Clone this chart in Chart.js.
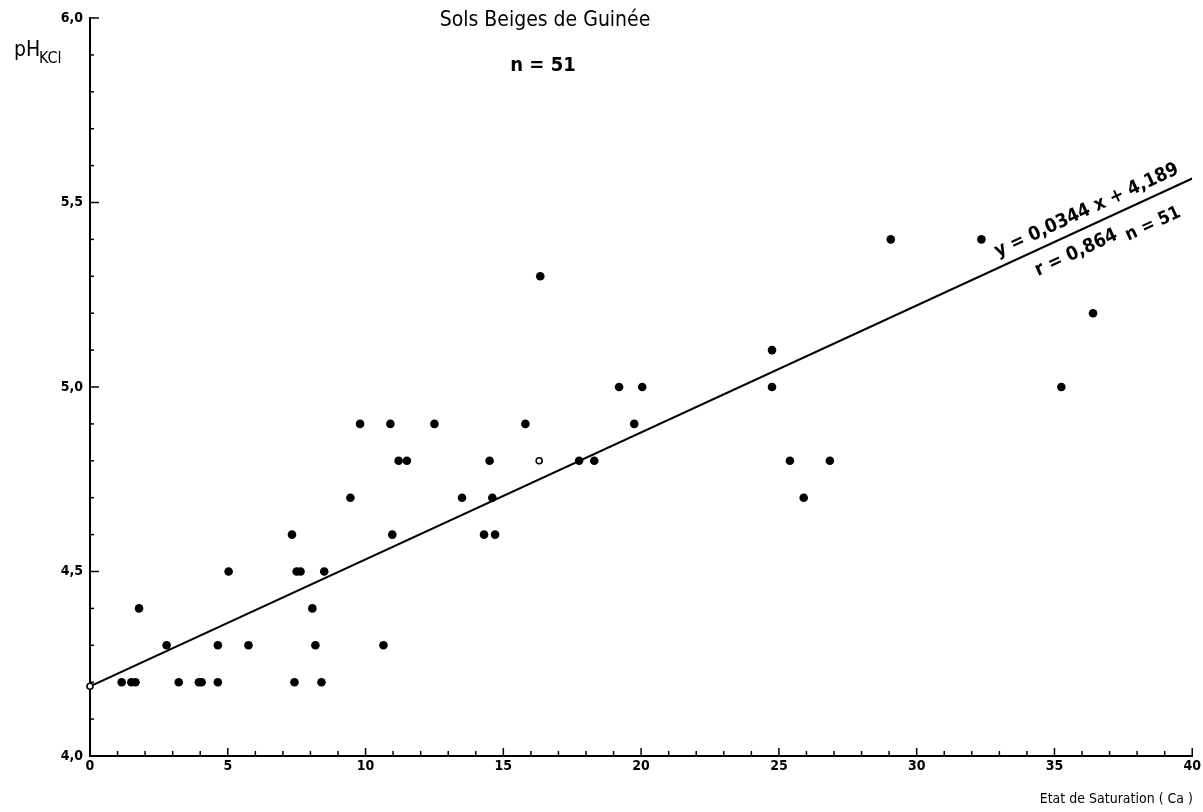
<!DOCTYPE html>
<html>
<head>
<meta charset="utf-8">
<title>Sols Beiges de Guinée</title>
<script src="https://cdn.jsdelivr.net/npm/chart.js@4/dist/chart.umd.min.js"></script>
<style>
  html, body { margin: 0; padding: 0; background: #fff; }
  canvas { display: block; }
</style>
</head>
<body>
<canvas id="phChart" width="1203" height="812"></canvas>
<script>
// ─── Data ─────────────────────────────────────────────────────────────────────

// Etat de saturation (Ca) vs pH KCl, filled dots
const satX = [
  1.15, 1.5, 1.65, 3.22, 3.95, 4.05, 4.64, 7.42, 8.4,
  2.78, 4.64, 5.75, 8.18, 10.65,
  1.78, 8.07,
  5.03, 7.5, 7.64, 8.5,
  7.33, 10.97, 14.3, 14.7,
  9.45, 13.5, 14.6, 25.9,
  11.2, 11.5, 14.5, 17.75, 18.3, 25.4, 26.85,
  9.8, 10.9, 12.5, 15.8, 19.75,
  19.2, 20.04, 24.75, 35.25,
  24.75,
  36.4,
  16.34,
  29.06, 32.35,
];
const phY = [
  4.2, 4.2, 4.2, 4.2, 4.2, 4.2, 4.2, 4.2, 4.2,
  4.3, 4.3, 4.3, 4.3, 4.3,
  4.4, 4.4,
  4.5, 4.5, 4.5, 4.5,
  4.6, 4.6, 4.6, 4.6,
  4.7, 4.7, 4.7, 4.7,
  4.8, 4.8, 4.8, 4.8, 4.8, 4.8, 4.8,
  4.9, 4.9, 4.9, 4.9, 4.9,
  5.0, 5.0, 5.0, 5.0,
  5.1,
  5.2,
  5.3,
  5.4, 5.4,
];

// open circles (one sample + the intercept mark on the axis)
const openX = [16.3, 0];
const openY = [4.8, 4.189];

// regression line y = 0,0344x + 4,189
const fitX = [0, 40];
const fitY = [4.189, 5.565];

const xTicks = [0, 5, 10, 15, 20, 25, 30, 35, 40];
const yTicks = [4.0, 4.5, 5.0, 5.5, 6.0];

const FONT = '"DejaVu Sans Condensed", "Liberation Sans Narrow", "DejaVu Sans", sans-serif';

const toPoints = (xs, ys) => xs.map((x, i) => ({ x, y: ys[i] }));
const isMajorY = v => Math.round(v * 10) % 5 === 0;
const fmtY = v => v.toFixed(1).replace('.', ',');

// ─── Plugin: inward tick marks + texts ────────────────────────────────────────

const decorPlugin = {
  id: 'decor',
  afterDraw(chart) {
    const { ctx, chartArea: area, scales: { x, y } } = chart;
    ctx.save();
    ctx.strokeStyle = '#000';
    ctx.lineWidth = 1.5;

    // x ticks, pointing up
    x.ticks.forEach(t => {
      const px = x.getPixelForValue(t.value);
      const len = xTicks.includes(t.value) ? 8 : 5;
      ctx.beginPath();
      ctx.moveTo(px, area.bottom);
      ctx.lineTo(px, area.bottom - len);
      ctx.stroke();
    });

    // y ticks, pointing right
    y.ticks.forEach(t => {
      const py = y.getPixelForValue(t.value);
      const len = isMajorY(t.value) ? 9 : 4;
      ctx.beginPath();
      ctx.moveTo(area.left, py);
      ctx.lineTo(area.left + len, py);
      ctx.stroke();
    });

    ctx.fillStyle = '#000';

    // titles
    ctx.textAlign = 'center';
    ctx.textBaseline = 'middle';
    ctx.font = `21px ${FONT}`;
    ctx.fillText('Sols Beiges de Guinée', 545, 21);
    ctx.font = `bold 20px ${FONT}`;
    ctx.fillText('n = 51', 543, 66);

    // y axis label pH KCl
    ctx.textAlign = 'left';
    ctx.textBaseline = 'alphabetic';
    ctx.font = `21px ${FONT}`;
    ctx.fillText('pH', 14, 56);
    ctx.font = `16px ${FONT}`;
    ctx.fillText('KCl', 39, 63);

    // x axis label
    ctx.textAlign = 'right';
    ctx.textBaseline = 'middle';
    ctx.font = `14px ${FONT}`;
    ctx.fillText('Etat de Saturation ( Ca )', 1193, 799);

    // equation along the regression line
    const x0 = x.getPixelForValue(fitX[0]), y0 = y.getPixelForValue(fitY[0]);
    const x1 = x.getPixelForValue(fitX[1]), y1 = y.getPixelForValue(fitY[1]);
    const angle = Math.atan2(y1 - y0, x1 - x0);
    const slope = (fitY[1] - fitY[0]) / (fitX[1] - fitX[0]);

    const label = (text, at, offset, font) => {
      const px = x.getPixelForValue(at);
      const py = y.getPixelForValue(fitY[0] + slope * (at - fitX[0]));
      ctx.save();
      ctx.translate(px, py);
      ctx.rotate(angle);
      ctx.font = font;
      ctx.textAlign = 'center';
      ctx.textBaseline = 'middle';
      ctx.fillText(text, 0, offset);
      ctx.restore();
    };
    label('y = 0,0344 x + 4,189', 36.4, -15, `bold 19px ${FONT}`);
    label('r = 0,864', 35.5, 19, `bold 19px ${FONT}`);
    label('n = 51', 38.2, 25, `bold 18px ${FONT}`);

    ctx.restore();
  },
};

// ─── Chart ────────────────────────────────────────────────────────────────────

new Chart(document.getElementById('phChart'), {
  type: 'scatter',
  data: {
    datasets: [
      {
        label: 'Régression',
        type: 'line',
        data: toPoints(fitX, fitY),
        borderColor: '#000',
        borderWidth: 2,
        pointRadius: 0,
        fill: false,
        order: 2,
      },
      {
        label: 'Echantillons',
        data: toPoints(satX, phY),
        backgroundColor: '#000',
        borderColor: '#000',
        pointRadius: 4.3,
        borderWidth: 0,
        order: 1,
      },
      {
        label: 'Ouverts',
        data: toPoints(openX, openY),
        backgroundColor: '#fff',
        borderColor: '#000',
        pointRadius: 3,
        borderWidth: 1.6,
        clip: false,
        order: 0,
      },
    ],
  },
  options: {
    responsive: false,
    animation: false,
    layout: { padding: { left: 0, right: 9, top: 18, bottom: 0 } },
    plugins: {
      legend: { display: false },
      tooltip: { enabled: false },
    },
    scales: {
      x: {
        type: 'linear',
        min: 0,
        max: 40,
        afterFit: s => { s.height = 56; },
        border: { display: true, color: '#000', width: 2 },
        grid: { display: true, drawOnChartArea: false, drawTicks: false },
        ticks: {
          stepSize: 1,
          autoSkip: false,
          maxRotation: 0,
          padding: 2,
          color: '#000',
          font: { family: FONT, size: 14, weight: 'bold' },
          callback: v => (xTicks.includes(v) ? String(v) : ''),
        },
      },
      y: {
        type: 'linear',
        min: 4.0,
        max: 6.0,
        afterFit: s => { s.width = 90; },
        border: { display: true, color: '#000', width: 2 },
        grid: { display: true, drawOnChartArea: false, drawTicks: false },
        ticks: {
          stepSize: 0.1,
          autoSkip: false,
          padding: 7,
          color: '#000',
          font: { family: FONT, size: 14, weight: 'bold' },
          callback: v => (isMajorY(v) ? fmtY(v) : ''),
        },
      },
    },
  },
  plugins: [decorPlugin],
});
</script>
</body>
</html>
